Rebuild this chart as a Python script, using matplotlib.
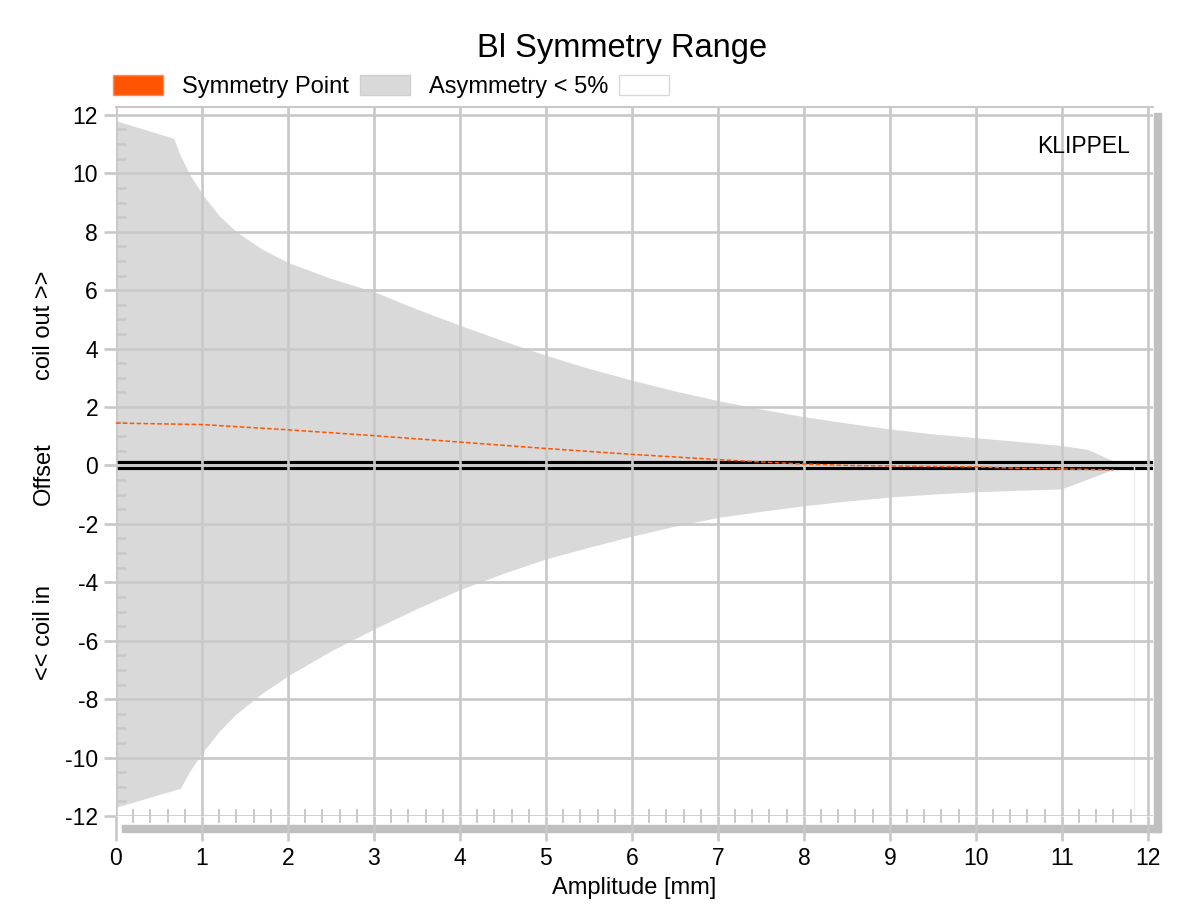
import numpy as np
import matplotlib
matplotlib.use("Agg")
import matplotlib.pyplot as plt
from matplotlib.patches import Patch, Rectangle
from matplotlib.ticker import MultipleLocator

plt.rcParams['font.family'] = ['Liberation Sans', 'DejaVu Sans']

# Asymmetry < 5% range (upper / lower offset boundary)
amp_upper = [0, 0.67, 0.75, 0.85, 1.0, 1.2, 1.4, 1.7, 2, 2.5, 3, 3.5, 4, 4.5,
             5, 5.5, 6, 6.5, 7, 7.5, 8, 8.5, 9, 9.5, 10, 10.5, 11, 11.3, 11.7]
off_upper = [11.8, 11.2, 10.6, 10.0, 9.3, 8.55, 8.0, 7.4, 6.95, 6.4, 5.95,
             5.35, 4.8, 4.27, 3.77, 3.32, 2.92, 2.55, 2.22, 1.93, 1.67, 1.45,
             1.25, 1.08, 0.95, 0.82, 0.68, 0.55, 0.02]
amp_lower = [0, 0.75, 0.85, 1.0, 1.2, 1.4, 1.7, 2, 2.5, 3, 3.5, 4, 4.5, 5, 5.5,
             6, 6.5, 7, 7.5, 8, 8.5, 9, 9.5, 10, 10.5, 11, 11.7]
off_lower = [-11.7, -11.05, -10.5, -9.85, -9.1, -8.5, -7.8, -7.2, -6.35, -5.6,
             -4.9, -4.25, -3.7, -3.2, -2.8, -2.42, -2.08, -1.78, -1.57, -1.38,
             -1.22, -1.08, -0.98, -0.9, -0.85, -0.8, -0.02]

# Symmetry point
amp_sym = [0, 1, 2, 3, 4, 5, 6, 7, 7.5, 8, 8.5, 9, 10, 10.5, 11, 11.6]
off_sym = [1.45, 1.4, 1.22, 1.02, 0.8, 0.58, 0.38, 0.2, 0.12, 0.05, 0.0,
           -0.02, -0.05, -0.1, -0.12, -0.15]

GRID = '#c8c8c8'
FILL = '#d9d9d9'
ORANGE = '#ff5500'

fig = plt.figure(figsize=(12, 9.08), dpi=100)
ax = fig.add_axes([116/1200, 1 - 816/908, (1153 - 116)/1200, (816 - 107)/908])

# merge both boundaries into one polygon on a common x grid
xs = np.union1d(amp_upper, amp_lower)
up = np.interp(xs, amp_upper, off_upper)
lo = np.interp(xs, amp_lower, off_lower)
ax.fill_between(xs, lo, up, color=FILL, lw=0, zorder=0.5)

ax.axhline(0, color='black', lw=6.6, zorder=1)
ax.axhline(0, color='white', lw=1.9, zorder=1.1)
ax.vlines(11.84, -12, 0, color='#ececec', lw=1, zorder=1)

ax.plot(amp_sym, off_sym, color=ORANGE, lw=1.1, ls=(0, (3, 1.5)), zorder=3)

ax.xaxis.set_major_locator(MultipleLocator(1))
ax.xaxis.set_minor_locator(MultipleLocator(0.2))
ax.yaxis.set_minor_locator(MultipleLocator(0.5))
ax.set_axisbelow(False)
ax.grid(True, which='major', color=GRID, lw=1.9, zorder=2)

for s in ax.spines.values():
    s.set_visible(False)
ax.plot([0, 1], [1, 1], transform=ax.transAxes, color=GRID, lw=1.5, clip_on=False)

ax.tick_params(axis='x', which='major', direction='out', length=18, width=1.9,
               color=GRID, labelsize=16.5, pad=4.5)
ax.tick_params(axis='y', which='major', direction='out', length=8.6, width=1.9,
               color=GRID, labelsize=16.5, pad=4.3)
ax.tick_params(axis='x', which='minor', direction='inout', length=10, width=1.4,
               color=GRID)
ax.tick_params(axis='y', which='minor', direction='in', length=7.2, width=1.9,
               color=GRID)
ax.set_xticks(np.arange(0, 13, 1))
ax.set_xticklabels([str(v) for v in range(13)])
ax.set_yticks(np.arange(-12, 13, 2))
ax.set_yticklabels([str(v) for v in range(-12, 13, 2)])
ax.set_xlim(0, 12.06)
ax.set_ylim(-12, 12.27)

ax.set_xlabel('Amplitude [mm]', fontsize=17, labelpad=5)

# 3D-like shadow along right and bottom edges
fig.patches.append(Rectangle((1154/1200, 1 - 832/908), 7/1200, (832 - 113)/908,
                             transform=fig.transFigure, color='#c0c0c0', zorder=-1))
fig.patches.append(Rectangle((122/1200, 1 - 832/908), (1161 - 122)/1200, 7/908,
                             transform=fig.transFigure, color='#c0c0c0', zorder=-1))

fig.text(622/1200, 1 - 57/908, 'Bl Symmetry Range', fontsize=23.5,
         ha='center', va='baseline')
fig.text(1130/1200, 1 - 153/908, 'KLIPPEL', fontsize=16.5, ha='right', va='baseline')

for label, yc in [('coil out >>', 325), ('Offset', 474), ('<< coil in', 632)]:
    fig.text(44/1200, 1 - yc/908, label, fontsize=17, rotation=90,
             ha='center', va='center')

handles = [Patch(facecolor=ORANGE, edgecolor='#ff8a5c', lw=1),
           Patch(facecolor=FILL, edgecolor='#cfcfcf', lw=1),
           Patch(facecolor='white', edgecolor='#d8d8d8', lw=1)]
fig.legend(handles, ['Symmetry Point', 'Asymmetry < 5%', ''], ncol=3,
           loc='center left', bbox_to_anchor=(113/1200, 1 - 86.5/908),
           frameon=False, fontsize=17, handlelength=2.12, handleheight=0.97,
           handletextpad=0.8, columnspacing=0.47, borderpad=0, borderaxespad=0)

fig.savefig('out.png', dpi=100)
